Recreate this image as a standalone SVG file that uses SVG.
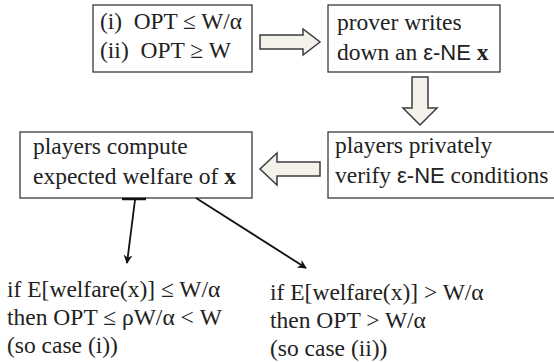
<svg xmlns="http://www.w3.org/2000/svg" width="554" height="362" viewBox="0 0 554 362">
<defs>
<marker id="ah" viewBox="0 0 10 10" refX="9" refY="5" markerWidth="5" markerHeight="5" orient="auto" markerUnits="strokeWidth">
<path d="M0,0 L10,5 L0,10 L3,5 Z" fill="#111"/>
</marker>
</defs>
<g id="n1">
<rect x="93" y="5" width="159" height="67" fill="#fff" stroke="#3a3a3a" stroke-width="1.3"/>
<text x="100" y="29" textLength="142" lengthAdjust="spacingAndGlyphs" style="font-family:'Liberation Serif',serif;font-size:23.5px;fill:#222" xml:space="preserve">(i)  OPT ≤ W/α</text>
<text x="100" y="58" style="font-family:'Liberation Serif',serif;font-size:23.5px;fill:#222" xml:space="preserve">(ii)  OPT ≥ W</text>
</g>
<g id="n2">
<rect x="328" y="5" width="172" height="67" fill="#fff" stroke="#3a3a3a" stroke-width="1.3"/>
<text x="337" y="30" style="font-family:'Liberation Serif',serif;font-size:23.5px;fill:#222">prover writes</text>
<text x="337" y="60" style="font-family:'Liberation Serif',serif;font-size:23.5px;fill:#222">down an <tspan style="font-family:'Liberation Sans',sans-serif;font-size:22px">ε-NE</tspan> <tspan style="font-weight:bold">x</tspan></text>
</g>
<g id="n3">
<rect x="328" y="132" width="240" height="66" fill="#fff" stroke="#3a3a3a" stroke-width="1.3"/>
<text x="335" y="153" style="font-family:'Liberation Serif',serif;font-size:23.5px;fill:#222">players privately</text>
<text x="335" y="183" style="font-family:'Liberation Serif',serif;font-size:23.5px;fill:#222">verify <tspan style="font-family:'Liberation Sans',sans-serif;font-size:22px">ε-NE</tspan> conditions</text>
</g>
<g id="n4">
<rect x="20" y="132" width="232" height="66" fill="#fff" stroke="#3a3a3a" stroke-width="1.3"/>
<text x="33" y="154" style="font-family:'Liberation Serif',serif;font-size:23.5px;fill:#222">players compute</text>
<text x="33" y="184" style="font-family:'Liberation Serif',serif;font-size:23.5px;fill:#222">expected welfare of <tspan style="font-weight:bold">x</tspan></text>
</g>
<g id="n5">
<text x="7" y="297" style="font-family:'Liberation Serif',serif;font-size:23.5px;fill:#222">if E[welfare(x)] ≤ W/α</text>
<text x="7" y="325" style="font-family:'Liberation Serif',serif;font-size:23.5px;fill:#222">then OPT ≤ ρW/α &lt; W</text>
<text x="7" y="353" style="font-family:'Liberation Serif',serif;font-size:23.5px;fill:#222">(so case (i))</text>
</g>
<g id="n6">
<text x="270" y="300" style="font-family:'Liberation Serif',serif;font-size:23.5px;fill:#222">if E[welfare(x)] &gt; W/α</text>
<text x="270" y="328" style="font-family:'Liberation Serif',serif;font-size:23.5px;fill:#222">then OPT &gt; W/α</text>
<text x="270" y="356" style="font-family:'Liberation Serif',serif;font-size:23.5px;fill:#222">(so case (ii))</text>
</g>
<g id="connectors" stroke-linejoin="miter">
<g fill="#F3F1EA" stroke="#3c3c3c" stroke-width="1.5">
<path d="M260,35 L303,35 L303,29 L320,42 L303,55 L303,49 L260,49 Z"/>
<path d="M412,77 L428,77 L428,108 L437,108 L420,125 L403,108 L412,108 Z"/>
<path d="M320,162 L277,162 L277,153 L260,169 L277,185 L277,176 L320,176 Z"/>
</g>
<line x1="122" y1="199" x2="146" y2="199" stroke="#111" stroke-width="2.5"/>
<g stroke="#111" stroke-width="1.8" fill="none">
<line x1="135" y1="200" x2="127" y2="263" marker-end="url(#ah)"/>
<line x1="196" y1="198" x2="306" y2="268" marker-end="url(#ah)"/>
</g>
</g>
</svg>
